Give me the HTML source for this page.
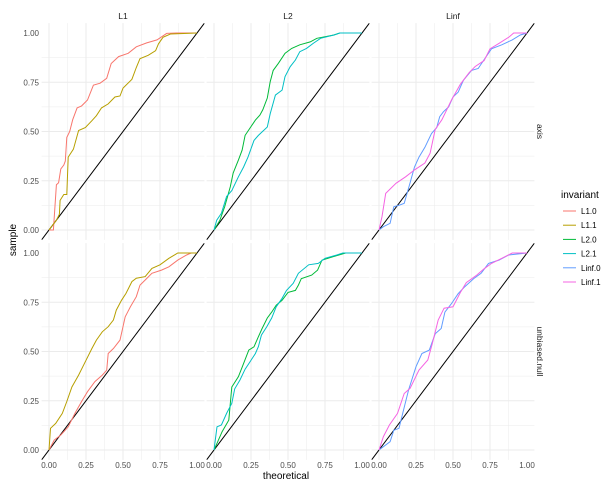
<!DOCTYPE html>
<html><head><meta charset="utf-8">
<style>
html,body{margin:0;padding:0;background:#fff;}
svg{display:block;font-family:"Liberation Sans",sans-serif;}
</style></head>
<body>
<svg id="chart" width="608" height="490" viewBox="0 0 608 490"></svg>
<script>
const invariants = ["L1.0","L1.1","L2.0","L2.1","Linf.0","Linf.1"];
const colors = ["#F8766D","#B79F00","#00BA38","#00BFC4","#619CFF","#F564E3"];
const colLabels = ["L1","L2","Linf"];
const rowLabels = ["axis","unbiased.null"];
const tickValues = [0,0.25,0.5,0.75,1];
const tickLabels = ["0.00","0.25","0.50","0.75","1.00"];

// axis row
const axisL10 = [[0,0],[0.03,0],[0.05,0.23],[0.065,0.24],[0.08,0.31],[0.1,0.33],[0.11,0.35],[0.12,0.47],[0.14,0.5],[0.16,0.56],[0.19,0.62],[0.22,0.63],[0.26,0.66],[0.3,0.735],[0.345,0.745],[0.39,0.77],[0.42,0.845],[0.47,0.88],[0.535,0.897],[0.59,0.93],[0.66,0.95],[0.73,0.965],[0.795,0.998],[0.86,1],[1,1]];
const axisL11 = [[0,0],[0.05,0.05],[0.07,0.08],[0.075,0.15],[0.1,0.18],[0.12,0.18],[0.13,0.37],[0.165,0.41],[0.2,0.505],[0.245,0.52],[0.29,0.555],[0.32,0.58],[0.355,0.62],[0.4,0.64],[0.445,0.675],[0.48,0.68],[0.5,0.72],[0.56,0.765],[0.59,0.825],[0.615,0.87],[0.67,0.887],[0.72,0.91],[0.74,0.945],[0.77,0.978],[0.82,0.995],[1,1]];
const axisL20 = [[0,0],[0.04,0.05],[0.073,0.12],[0.11,0.22],[0.13,0.29],[0.165,0.355],[0.19,0.405],[0.21,0.48],[0.245,0.52],[0.28,0.558],[0.31,0.583],[0.33,0.61],[0.36,0.67],[0.38,0.753],[0.4,0.81],[0.435,0.846],[0.48,0.897],[0.525,0.922],[0.58,0.94],[0.65,0.955],[0.695,0.973],[0.81,0.99],[0.85,1],[1,1]];
const axisL21 = [[0,0],[0.018,0.05],[0.05,0.085],[0.085,0.17],[0.12,0.2],[0.165,0.27],[0.2,0.32],[0.23,0.37],[0.27,0.455],[0.3,0.48],[0.36,0.523],[0.38,0.59],[0.415,0.685],[0.46,0.71],[0.48,0.778],[0.515,0.829],[0.55,0.863],[0.58,0.905],[0.625,0.922],[0.67,0.947],[0.72,0.973],[0.81,0.99],[0.85,1],[1,1]];
const axisLinf0 = [[0,0],[0.03,0.017],[0.075,0.034],[0.1,0.118],[0.14,0.127],[0.17,0.135],[0.21,0.24],[0.24,0.32],[0.27,0.37],[0.31,0.42],[0.355,0.49],[0.39,0.52],[0.41,0.575],[0.435,0.6],[0.47,0.625],[0.5,0.675],[0.535,0.7],[0.57,0.76],[0.625,0.81],[0.67,0.82],[0.715,0.87],[0.76,0.92],[0.83,0.94],[0.9,0.965],[0.955,0.99],[1,1]];
const axisLinf1 = [[0,0],[0.02,0.068],[0.045,0.186],[0.115,0.237],[0.18,0.27],[0.24,0.305],[0.31,0.34],[0.345,0.39],[0.38,0.51],[0.425,0.56],[0.49,0.66],[0.55,0.74],[0.61,0.8],[0.65,0.83],[0.71,0.86],[0.75,0.92],[0.81,0.947],[0.88,0.98],[0.91,1],[1,1]];
// unbiased.null row
const nullL10 = [[0,0],[0.035,0.05],[0.08,0.076],[0.13,0.118],[0.175,0.186],[0.22,0.246],[0.26,0.296],[0.31,0.347],[0.36,0.38],[0.39,0.405],[0.4,0.49],[0.435,0.515],[0.48,0.558],[0.515,0.676],[0.55,0.727],[0.59,0.778],[0.615,0.837],[0.65,0.863],[0.695,0.897],[0.76,0.913],[0.81,0.93],[0.87,0.964],[0.93,0.99],[0.96,1],[1,1]];
const nullL11 = [[0,0],[0.01,0.11],[0.045,0.135],[0.09,0.186],[0.12,0.246],[0.155,0.32],[0.2,0.38],[0.24,0.44],[0.29,0.515],[0.32,0.558],[0.36,0.6],[0.4,0.626],[0.435,0.66],[0.455,0.71],[0.49,0.76],[0.52,0.795],[0.56,0.855],[0.59,0.872],[0.65,0.88],[0.695,0.922],[0.75,0.94],[0.81,0.973],[0.87,1],[1,1]];
const nullL20 = [[0,0],[0.02,0.034],[0.055,0.093],[0.1,0.152],[0.12,0.32],[0.165,0.372],[0.19,0.42],[0.235,0.507],[0.27,0.524],[0.3,0.575],[0.325,0.617],[0.36,0.67],[0.39,0.7],[0.42,0.735],[0.46,0.76],[0.5,0.8],[0.55,0.81],[0.57,0.837],[0.59,0.87],[0.66,0.888],[0.7,0.913],[0.73,0.964],[0.8,0.98],[0.89,1],[1,1]];
const nullL21 = [[0,0],[0.02,0.118],[0.05,0.127],[0.085,0.186],[0.12,0.237],[0.14,0.31],[0.175,0.355],[0.21,0.41],[0.245,0.45],[0.28,0.49],[0.3,0.525],[0.32,0.583],[0.356,0.625],[0.39,0.67],[0.42,0.727],[0.46,0.77],[0.49,0.81],[0.535,0.846],[0.57,0.897],[0.64,0.94],[0.705,0.947],[0.75,0.973],[0.83,0.99],[0.87,1],[1,1]];
const nullLinf0 = [[0,0],[0.03,0.017],[0.075,0.042],[0.1,0.1],[0.135,0.11],[0.16,0.186],[0.2,0.305],[0.25,0.423],[0.29,0.49],[0.34,0.507],[0.38,0.59],[0.42,0.617],[0.445,0.7],[0.49,0.743],[0.535,0.794],[0.58,0.829],[0.64,0.87],[0.69,0.897],[0.74,0.947],[0.81,0.964],[0.875,0.99],[1,1]];
const nullLinf1 = [[0,0],[0.03,0.068],[0.07,0.127],[0.125,0.186],[0.17,0.287],[0.21,0.313],[0.27,0.406],[0.33,0.457],[0.36,0.54],[0.4,0.66],[0.44,0.72],[0.5,0.727],[0.55,0.8],[0.59,0.85],[0.66,0.888],[0.71,0.92],[0.76,0.947],[0.83,0.973],[0.9,1],[1,1]];

const panels = [
  {row:0,col:0,series:[[0,axisL10],[1,axisL11]]},
  {row:0,col:1,series:[[2,axisL20],[3,axisL21]]},
  {row:0,col:2,series:[[4,axisLinf0],[5,axisLinf1]]},
  {row:1,col:0,series:[[0,nullL10],[1,nullL11]]},
  {row:1,col:1,series:[[2,nullL20],[3,nullL21]]},
  {row:1,col:2,series:[[4,nullLinf0],[5,nullLinf1]]}
];

const NS="http://www.w3.org/2000/svg";
const svg=document.getElementById("chart");
function mk(tag,attrs,parent){const e=document.createElementNS(NS,tag);for(const k in attrs)e.setAttribute(k,attrs[k]);(parent||svg).appendChild(e);return e;}
const colX0=[49,214,379], unitX=148;
const rowY0=[230,450], unitY=197;
function sx(c,v){return colX0[c]+v*unitX;}
function sy(r,v){return rowY0[r]-v*unitY;}

const defs=mk("defs",{});
panels.forEach((p,i)=>{
  const x0=sx(p.col,-0.05),x1=sx(p.col,1.05),y0=sy(p.row,1.05),y1=sy(p.row,-0.05);
  const cp=mk("clipPath",{id:"cp"+i},defs);
  mk("rect",{x:x0,y:y0,width:x1-x0,height:y1-y0},cp);
  const g=mk("g",{});
  
  
  for(let k=0;k<8;k++){
    const v=k*0.125, major=k%2===0;
    mk("line",{x1:sx(p.col,v),x2:sx(p.col,v),y1:y0,y2:y1,stroke:"#ebebeb","stroke-width":major?1:0.5},g);
    mk("line",{y1:sy(p.row,v),y2:sy(p.row,v),x1:x0,x2:x1,stroke:"#ebebeb","stroke-width":major?1:0.5},g);
  }
  const pg=mk("g",{"clip-path":"url(#cp"+i+")"},g);
  const diag=mk("line",{x1:sx(p.col,-0.1),y1:sy(p.row,-0.1),x2:sx(p.col,1.1),y2:sy(p.row,1.1),stroke:"#000","stroke-width":1},pg);
  
  
  p.series.forEach(([si,data])=>{
    const pts=data.map(d=>sx(p.col,d[0]).toFixed(1)+","+sy(p.row,d[1]).toFixed(1)).join(" ");
    const pl=mk("polyline",{points:pts,fill:"none",stroke:colors[si],"stroke-width":1},pg);
    
    
  });
});
// strip labels top
colLabels.forEach((l,c)=>{
  const t=mk("text",{x:sx(c,0.5),y:19,"font-size":8.5,"text-anchor":"middle",fill:"#1a1a1a"});
  t.textContent=l;
  
  
});
rowLabels.forEach((l,r)=>{
  const cy=sy(r,0.5);
  const t=mk("text",{x:0,y:0,"font-size":8.5,"text-anchor":"middle",fill:"#1a1a1a",transform:`translate(537,${cy}) rotate(90)`});
  t.textContent=l;
  
  
});
// y ticks
[0,1].forEach(r=>{tickValues.forEach((v,k)=>{
  const t=mk("text",{x:39,y:sy(r,v)+3,"font-size":8,"text-anchor":"end",fill:"#4d4d4d"});
  t.textContent=tickLabels[k];
  
  
});});
// x ticks
[0,1,2].forEach(c=>{tickValues.forEach((v,k)=>{
  const t=mk("text",{x:sx(c,v),y:468,"font-size":8,"text-anchor":"middle",fill:"#4d4d4d"});
  t.textContent=tickLabels[k];
  
  
});});
const xt=mk("text",{x:sx(1,0.5)-2,y:479,"font-size":10,"text-anchor":"middle",fill:"#000"});
xt.textContent="theoretical";


const yt=mk("text",{x:0,y:0,"font-size":10,"text-anchor":"middle",fill:"#000",transform:"translate(16,240) rotate(-90)"});
yt.textContent="sample";


// legend
const lg=mk("g",{});


const lt=mk("text",{x:561,y:198,"font-size":10,fill:"#000"},lg);
lt.textContent="invariant";
invariants.forEach((n,i)=>{
  const y=211+i*14.2;
  const e=mk("g",{},lg);
  
  
  mk("line",{x1:563,x2:576,y1:y,y2:y,stroke:colors[i],"stroke-width":1},e);
  const t=mk("text",{x:581,y:y+3,"font-size":8,fill:"#000"},e);
  t.textContent=n;
});
</script>
</body></html>
